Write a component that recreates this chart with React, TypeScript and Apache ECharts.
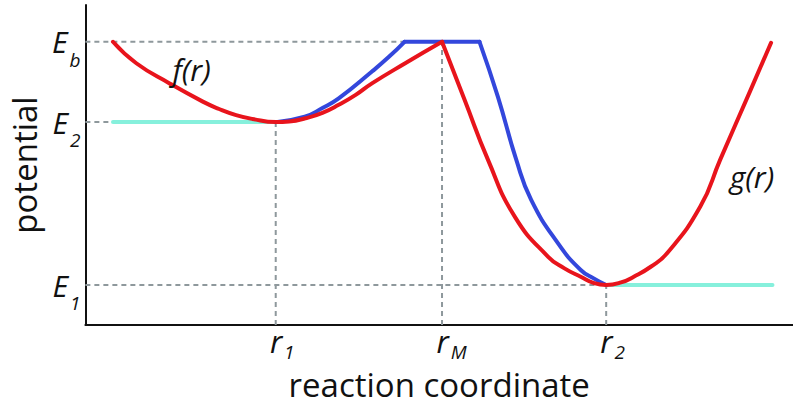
import React, { useEffect, useRef } from "react";
import * as echarts from "echarts";

// positions on the reaction coordinate
const R1 = 2.69;
const RM = 5.04;
const R2 = 7.36;
// energy levels
const EB = 8.85;
const E2 = 6.34;
const E1 = 1.25;

const xTickValues = [R1, RM, R2];
const xTickMain = ["r", "r", "r"];
const xTickSub = ["1", "M", "2"];
const yTickValues = [E1, E2, EB];
const yTickMain = ["E", "E", "E"];
const yTickSub = ["1", "2", "b"];

// red f(r): left well
const fCurve: [number, number][] = [
  [0.39, 8.85], [0.72, 8.18], [1.19, 7.55], [1.66, 6.98], [1.89, 6.75], [2.13, 6.56], [2.36, 6.44],
  [2.69, 6.34], [2.88, 6.36], [3.11, 6.46], [3.35, 6.63], [3.58, 6.88], [3.82, 7.19], [4.05, 7.55],
  [4.52, 8.18], [5.04, 8.85],
];
// red g(r): right well
const gCurve: [number, number][] = [
  [5.04, 8.85], [5.36, 7.03], [5.69, 5.16], [6.07, 3.38], [6.54, 2.13], [6.77, 1.77],
  [7.0, 1.51], [7.19, 1.31], [7.36, 1.25], [7.57, 1.33], [7.75, 1.51], [7.99, 1.82], [8.22, 2.24],
  [8.69, 3.7], [8.97, 5.16], [9.4, 7.34], [9.69, 8.82],
];
// blue path
const blueRise: [number, number][] = [
  [2.69, 6.34], [3.1, 6.51], [3.35, 6.78], [3.58, 7.08], [4.05, 7.92], [4.29, 8.38], [4.51, 8.85],
];
const blueTop: [number, number][] = [[4.51, 8.85], [5.57, 8.85]];
const blueFall: [number, number][] = [
  [5.57, 8.85], [5.83, 7.13], [6.09, 5.16], [6.3, 3.91], [6.68, 2.55], [7.0, 1.72],
  [7.19, 1.45], [7.36, 1.25],
];
// cyan plateaus
const cyanLeft: [number, number][] = [[0.39, E2], [R1, E2]];
const cyanRight: [number, number][] = [[R2, E1], [9.71, E1]];
// dashed guides
const guides: [number, number][][] = [
  [[0, EB], [RM, EB]],
  [[0, E2], [R1, E2]],
  [[0, E1], [R2, E1]],
  [[R1, 0], [R1, E2]],
  [[RM, 0], [RM, EB]],
  [[R2, 0], [R2, E1]],
];
// curve annotations
const annotations = [
  { name: "f(r)", value: [1.5, 8.0] },
  { name: "g(r)", value: [9.42, 4.63] },
];

const FONT = "Open Sans";
const RED = "#e8141c";
const BLUE = "#3347dc";
const CYAN = "#86f0dc";
const DASH = "#8e989c";

function idx(values: number[], v: number) {
  let best = 0;
  for (let i = 1; i < values.length; i++) {
    if (Math.abs(values[i] - v) < Math.abs(values[best] - v)) best = i;
  }
  return best;
}

export default function App() {
  const ref = useRef<HTMLDivElement>(null);
  useEffect(() => {
    if (!ref.current) return;
    const chart = echarts.init(ref.current, null, { renderer: "svg" });
    const line = (data: [number, number][], color: string, width: number, smooth: boolean, z: number) => ({
      type: "line",
      data,
      showSymbol: false,
      symbol: "none",
      smooth: smooth ? 0.5 : false,
      lineStyle: { color, width, cap: "round", join: "round" },
      z,
      silent: true,
    });
    const series: any[] = [];
    guides.forEach((g) =>
      series.push({
        type: "line",
        data: g,
        symbol: "none",
        lineStyle: { color: DASH, width: 2, type: [5, 4] },
        z: 1,
        silent: true,
      })
    );
    series.push(line(cyanLeft, CYAN, 4, false, 2));
    series.push(line(cyanRight, CYAN, 4, false, 2));
    series.push(line(blueRise, BLUE, 4, true, 3));
    series.push(line(blueTop, BLUE, 4, false, 3));
    series.push(line(blueFall, BLUE, 4, true, 3));
    series.push(line(fCurve, RED, 4, true, 4));
    series.push(line(gCurve, RED, 4, true, 4));
    series.push({
      type: "scatter",
      data: annotations,
      symbolSize: 1,
      itemStyle: { color: "transparent", opacity: 1 },
      label: {
        show: true,
        position: "inside",
        formatter: "{b}",
        fontFamily: FONT,
        fontStyle: "italic",
        fontSize: 30,
        color: "#111",
        opacity: 1,
        textBorderWidth: 0,
      },
      z: 5,
      silent: true,
    });

    chart.setOption({
      animation: false,
      grid: { left: 82, right: 0, top: 5, bottom: 81 },
      xAxis: {
        type: "value",
        min: 0,
        max: 10,
        name: "reaction coordinate",
        nameLocation: "middle",
        nameGap: 43,
        nameTextStyle: { fontFamily: FONT, fontSize: 33, lineHeight: 33, color: "#111" },
        splitLine: { show: false },
        axisTick: { show: false },
        axisLine: { show: true, onZero: false, lineStyle: { color: "#111", width: 2 } },
        axisLabel: {
          customValues: xTickValues,
          margin: 0,
          formatter: (v: number) => {
            const i = idx(xTickValues, v);
            const pad = xTickSub[i] === "M" ? "pm" : "pd";
            return `{${pad}|}{m|${xTickMain[i]}}{s|${xTickSub[i]}}`;
          },
          rich: {
            pd: { width: 13 },
            pm: { width: 19 },
            m: { fontFamily: FONT, fontStyle: "italic", fontSize: 31, lineHeight: 30, color: "#111", verticalAlign: "top" },
            s: { fontFamily: FONT, fontStyle: "italic", fontSize: 19, lineHeight: 15, color: "#111", padding: [23, 0, 0, 2] },
          },
        },
      },
      yAxis: {
        type: "value",
        min: 0,
        max: 10,
        name: "potential",
        nameLocation: "middle",
        nameGap: 40,
        nameRotate: 90,
        nameTextStyle: { fontFamily: FONT, fontSize: 33, lineHeight: 33, color: "#111" },
        splitLine: { show: false },
        axisTick: { show: false },
        axisLine: { show: true, onZero: false, lineStyle: { color: "#111", width: 2 } },
        axisLabel: {
          customValues: yTickValues,
          margin: 5,
          formatter: (v: number) => {
            const i = idx(yTickValues, v);
            return `{m|${yTickMain[i]}}{s|${yTickSub[i]}}`;
          },
          rich: {
            m: { fontFamily: FONT, fontStyle: "italic", fontSize: 30, lineHeight: 30, color: "#111" },
            s: { fontFamily: FONT, fontStyle: "italic", fontSize: 19, lineHeight: 19, color: "#111", padding: [36, 0, 0, 2] },
          },
        },
      },
      series,
    });
    return () => chart.dispose();
  }, []);
  return <div ref={ref} style={{ width: 793, height: 406, position: "absolute", left: 0, top: 0 }} />;
}
